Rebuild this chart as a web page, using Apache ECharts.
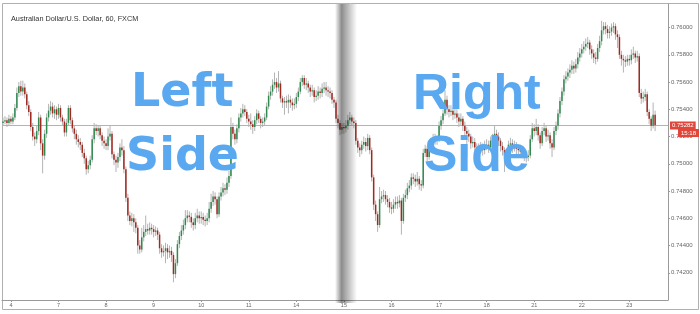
<!DOCTYPE html>
<html><head><meta charset="utf-8">
<script src="https://cdn.jsdelivr.net/npm/echarts@6/dist/echarts.min.js"></script>
<style>html,body{margin:0;padding:0;background:#fff}#c{width:700px;height:314px}</style>
</head><body><div id="c"></div>
<script>
const titleText = 'Australian Dollar/U.S. Dollar, 60, FXCM';
const dayLabels = ['3','4','7','8','9','10','11','14','15','16','17','18','21','22','23'];
const barsPerDay = [4,24,24,24,24,24,24,24,24,24,24,24,24,24,14];
const emptySlots = 6;
const lastPrice = 0.75282;
const countdown = '15:18';

const closes = [.7531,.7532,.7530,.7533,.7531,.7534,.7541,.7552,.7557,.7553,.7556,.7551,.7543,.7538,.7527,.7520,.7518,.7524,.7534,.7515,
.7506,.7522,.7534,.7539,.7542,.7537,.7540,.7536,.7541,.7534,.7531,.7523,.7530,.7541,.7532,.7526,.7522,.7518,.7516,.7514,
.7508,.7504,.7496,.7499,.7503,.7518,.7526,.7524,.7526,.7521,.7517,.7515,.7513,.7520,.7522,.7507,.7503,.7501,.7505,.7512,
.7510,.7496,.7475,.7462,.7458,.7460,.7457,.7453,.7440,.7437,.7446,.7450,.7452,.7451,.7453,.7452,.7450,.7451,.7448,.7438,
.7435,.7436,.7438,.7435,.7436,.7433,.7419,.7427,.7441,.7447,.7451,.7455,.7460,.7462,.7461,.7457,.7455,.7460,.7462,.7460,
.7461,.7459,.7458,.7460,.7467,.7472,.7476,.7474,.7463,.7476,.7479,.7482,.7481,.7486,.7491,.7527,.7522,.7518,.7526,.7534,
.7537,.7540,.7538,.7533,.7531,.7529,.7527,.7532,.7537,.7533,.7530,.7531,.7534,.7542,.7550,.7553,.7558,.7560,.7556,.7559,
.7548,.7545,.7546,.7545,.7547,.7545,.7543,.7544,.7549,.7553,.7560,.7563,.7558,.7559,.7556,.7553,.7554,.7549,.7550,.7553,
.7552,.7555,.7556,.7554,.7553,.7552,.7547,.7545,.7533,.7530,.7525,.7527,.7526,.7528,.7532,.7534,.7531,.7530,.7517,.7512,
.7510,.7514,.7516,.7513,.7519,.7510,.7490,.7470,.7463,.7455,.7474,.7476,.7477,.7474,.7472,.7468,.7467,.7470,.7472,.7471,
.7473,.7458,.7475,.7477,.7482,.7484,.7490,.7489,.7487,.7489,.7485,.7484,.7508,.7511,.7505,.7513,.7515,.7519,.7518,.7518,
.7528,.7532,.7537,.7547,.7540,.7538,.7539,.7536,.7537,.7534,.7531,.7533,.7528,.7524,.7522,.7520,.7515,.7516,.7512,.7510,
.7511,.7512,.7510,.7513,.7514,.7512,.7517,.7518,.7522,.7520,.7517,.7513,.7510,.7506,.7504,.7514,.7515,.7512,.7513,.7511,
.7510,.7509,.7508,.7506,.7505,.7506,.7518,.7526,.7524,.7527,.7521,.7515,.7524,.7526,.7520,.7521,.7515,.7512,.7524,.7528,
.7537,.7546,.7553,.7562,.7564,.7567,.7569,.7572,.7570,.7573,.7578,.7581,.7584,.7586,.7588,.7589,.7584,.7581,.7578,.7577,
.7585,.7590,.7598,.7601,.7599,.7596,.7597,.7600,.7601,.7595,.7593,.7580,.7577,.7576,.7575,.7577,.7576,.7580,.7581,.7578,
.7579,.7552,.7548,.7549,.7551,.7538,.7533,.7528,.7536,.75282];

const opens = [.7530,.7531,.7532,.7530,.7533,.7531,.7534,.7541,.7552,.7557,.7553,.7556,.7551,.7543,.7538,.7527,.7520,.7518,.7524,.7534,
.7515,.7506,.7522,.7534,.7539,.7542,.7537,.7540,.7536,.7541,.7534,.7531,.7523,.7530,.7541,.7532,.7526,.7522,.7518,.7516,
.7514,.7508,.7504,.7496,.7499,.7503,.7518,.7526,.7524,.7526,.7521,.7517,.7515,.7513,.7520,.7522,.7507,.7503,.7501,.7505,
.7512,.7510,.7496,.7475,.7462,.7458,.7460,.7457,.7453,.7440,.7437,.7446,.7450,.7452,.7451,.7453,.7452,.7450,.7451,.7448,
.7438,.7435,.7436,.7438,.7435,.7436,.7433,.7419,.7427,.7441,.7447,.7451,.7455,.7460,.7462,.7461,.7457,.7455,.7460,.7462,
.7460,.7461,.7459,.7458,.7460,.7467,.7472,.7476,.7474,.7463,.7476,.7479,.7482,.7481,.7486,.7491,.7527,.7522,.7518,.7526,
.7534,.7537,.7540,.7538,.7533,.7531,.7529,.7527,.7532,.7537,.7533,.7530,.7531,.7534,.7542,.7550,.7553,.7558,.7560,.7556,
.7559,.7548,.7545,.7546,.7545,.7547,.7545,.7543,.7544,.7549,.7553,.7560,.7563,.7558,.7559,.7556,.7553,.7554,.7549,.7550,
.7553,.7552,.7555,.7556,.7554,.7553,.7552,.7547,.7545,.7533,.7530,.7525,.7527,.7526,.7528,.7532,.7534,.7531,.7530,.7517,
.7512,.7510,.7514,.7516,.7513,.7519,.7510,.7490,.7470,.7463,.7455,.7474,.7476,.7477,.7474,.7472,.7468,.7467,.7470,.7472,
.7471,.7473,.7458,.7475,.7477,.7482,.7484,.7490,.7489,.7487,.7489,.7485,.7484,.7508,.7511,.7505,.7513,.7515,.7519,.7518,
.7518,.7528,.7532,.7537,.7547,.7540,.7538,.7539,.7536,.7537,.7534,.7531,.7533,.7528,.7524,.7522,.7520,.7515,.7516,.7512,
.7510,.7511,.7512,.7510,.7513,.7514,.7512,.7517,.7518,.7522,.7520,.7517,.7513,.7510,.7506,.7504,.7514,.7515,.7512,.7513,
.7511,.7510,.7509,.7508,.7506,.7505,.7506,.7518,.7526,.7524,.7527,.7521,.7515,.7524,.7526,.7520,.7521,.7515,.7512,.7524,
.7528,.7537,.7546,.7553,.7562,.7564,.7567,.7569,.7572,.7570,.7573,.7578,.7581,.7584,.7586,.7588,.7589,.7584,.7581,.7578,
.7577,.7585,.7590,.7598,.7601,.7599,.7596,.7597,.7600,.7601,.7595,.7593,.7580,.7577,.7576,.7575,.7577,.7576,.7580,.7581,
.7578,.7579,.7552,.7548,.7549,.7551,.7538,.7533,.7528,.7536];

const highs = [.7534,.7535,.7534,.7536,.7535,.7537,.7544,.7556,.7560,.7561,.7561,.7559,.7553,.7546,.7540,.7530,.7523,.7528,.7538,.7536,
.7518,.7525,.7537,.7544,.7546,.7545,.7543,.7542,.7544,.7543,.7536,.7533,.7533,.7543,.7543,.7534,.7528,.7525,.7521,.7519,
.7516,.7511,.7506,.7502,.7506,.7521,.7530,.7529,.7528,.7528,.7523,.7520,.7518,.7526,.7528,.7524,.7509,.7506,.7508,.7515,
.7518,.7513,.7498,.7478,.7465,.7464,.7463,.7460,.7455,.7444,.7453,.7455,.7462,.7456,.7457,.7456,.7455,.7454,.7453,.7450,
.7441,.7440,.7442,.7441,.7440,.7439,.7435,.7430,.7444,.7450,.7455,.7459,.7466,.7466,.7465,.7464,.7460,.7464,.7467,.7465,
.7465,.7464,.7462,.7464,.7472,.7478,.7480,.7479,.7476,.7479,.7483,.7486,.7485,.7490,.7495,.7534,.7530,.7525,.7529,.7537,
.7541,.7544,.7543,.7540,.7536,.7537,.7532,.7535,.7540,.7539,.7535,.7534,.7537,.7545,.7553,.7557,.7562,.7567,.7563,.7568,
.7561,.7550,.7549,.7550,.7551,.7550,.7548,.7548,.7552,.7556,.7563,.7565,.7565,.7563,.7561,.7558,.7558,.7556,.7554,.7557,
.7556,.7559,.7560,.7560,.7557,.7556,.7554,.7549,.7547,.7536,.7532,.7530,.7530,.7532,.7536,.7538,.7536,.7534,.7532,.7519,
.7515,.7517,.7520,.7519,.7522,.7521,.7512,.7492,.7473,.7465,.7483,.7480,.7481,.7480,.7477,.7475,.7472,.7474,.7476,.7476,
.7477,.7475,.7478,.7481,.7486,.7488,.7493,.7493,.7492,.7494,.7491,.7488,.7511,.7514,.7513,.7516,.7519,.7522,.7522,.7521,
.7531,.7535,.7540,.7554,.7550,.7543,.7543,.7541,.7541,.7540,.7537,.7537,.7535,.7531,.7527,.7525,.7522,.7520,.7519,.7515,
.7515,.7516,.7515,.7517,.7518,.7517,.7520,.7522,.7528,.7525,.7523,.7519,.7516,.7512,.7509,.7517,.7519,.7518,.7517,.7516,
.7514,.7514,.7512,.7511,.7509,.7510,.7521,.7530,.7529,.7533,.7529,.7523,.7527,.7530,.7528,.7525,.7523,.7518,.7527,.7531,
.7540,.7549,.7556,.7565,.7568,.7570,.7573,.7576,.7575,.7577,.7582,.7585,.7588,.7590,.7592,.7593,.7591,.7587,.7584,.7582,
.7588,.7594,.7605,.7604,.7604,.7602,.7601,.7603,.7604,.7603,.7598,.7595,.7583,.7580,.7579,.7580,.7580,.7584,.7586,.7583,
.7583,.7581,.7555,.7553,.7555,.7553,.7540,.7535,.7545,.7539];

const lows = [.7528,.7529,.7527,.7528,.7529,.7529,.7532,.7539,.7549,.7550,.7550,.7548,.7540,.7535,.7524,.7517,.7513,.7515,.7521,.7510,
.7493,.7503,.7519,.7531,.7536,.7534,.7533,.7532,.7533,.7531,.7528,.7520,.7520,.7528,.7529,.7523,.7518,.7514,.7512,.7510,
.7505,.7500,.7492,.7493,.7496,.7501,.7515,.7521,.7520,.7518,.7513,.7511,.7510,.7510,.7517,.7504,.7499,.7494,.7497,.7502,
.7506,.7493,.7472,.7458,.7455,.7454,.7450,.7449,.7434,.7434,.7435,.7443,.7447,.7448,.7448,.7448,.7446,.7447,.7444,.7434,
.7431,.7432,.7427,.7430,.7431,.7428,.7413,.7416,.7425,.7438,.7444,.7448,.7452,.7457,.7457,.7453,.7451,.7452,.7457,.7456,
.7456,.7455,.7454,.7455,.7457,.7464,.7469,.7470,.7460,.7461,.7473,.7476,.7477,.7478,.7483,.7489,.7518,.7514,.7515,.7523,
.7531,.7534,.7535,.7530,.7527,.7525,.7522,.7524,.7529,.7530,.7526,.7527,.7528,.7532,.7540,.7547,.7550,.7555,.7552,.7553,
.7545,.7541,.7536,.7541,.7537,.7541,.7539,.7540,.7541,.7546,.7551,.7557,.7555,.7554,.7552,.7549,.7550,.7545,.7546,.7547,
.7548,.7549,.7552,.7550,.7549,.7548,.7544,.7541,.7530,.7526,.7521,.7522,.7522,.7523,.7525,.7529,.7528,.7526,.7514,.7508,
.7505,.7507,.7511,.7509,.7510,.7507,.7487,.7466,.7458,.7450,.7453,.7471,.7472,.7470,.7468,.7464,.7463,.7464,.7467,.7467,
.7468,.7448,.7456,.7472,.7474,.7479,.7481,.7485,.7483,.7484,.7481,.7480,.7482,.7505,.7502,.7503,.7510,.7512,.7514,.7514,
.7516,.7525,.7529,.7535,.7536,.7534,.7535,.7532,.7533,.7530,.7527,.7528,.7524,.7520,.7505,.7516,.7511,.7512,.7508,.7506,
.7507,.7508,.7506,.7507,.7510,.7508,.7509,.7514,.7515,.7516,.7513,.7509,.7506,.7494,.7500,.7502,.7511,.7508,.7509,.7507,
.7506,.7505,.7504,.7502,.7501,.7502,.7504,.7516,.7520,.7521,.7517,.7511,.7513,.7521,.7516,.7517,.7511,.7505,.7510,.7521,
.7525,.7534,.7543,.7550,.7559,.7561,.7563,.7566,.7566,.7567,.7570,.7575,.7578,.7581,.7583,.7585,.7580,.7577,.7574,.7573,
.7575,.7582,.7587,.7595,.7595,.7592,.7592,.7594,.7596,.7591,.7585,.7577,.7572,.7567,.7571,.7572,.7572,.7573,.7577,.7574,
.7575,.7549,.7544,.7545,.7546,.7535,.7529,.7524,.7526,.7524];

// categories built from the day labels
const categories = [];
dayLabels.forEach((d, k) => {
  const n = barsPerDay[k];
  const start = k === 0 ? 24 - n : 0;
  for (let h = 0; h < n; h++) categories.push(d + ' ' + String(start + h).padStart(2, '0') + ':00');
});
for (let k = 1; k <= emptySlots; k++) categories.push('+' + k);
const isDayStart = (idx, val) => typeof val === 'string' && val.endsWith(' 00:00');

const data = closes.map((c, i) => [i, opens[i], c, lows[i], highs[i]]);

const UP = '#2f8a4f', DOWN = '#a3281f', WICK = '#b3b3b3', PRICE = '#f19a92', TAG = '#e0473a';
const chart = echarts.init(document.getElementById('c'), null, {renderer: 'canvas'});
chart.setOption({
  animation: false,
  backgroundColor: '#fff',
  title: {text: titleText, left: 6, top: 10, textStyle: {fontFamily: 'Liberation Sans', fontSize: 7.3, fontWeight: 'normal', color: '#333'}},
  grid: {left: 2, right: 32, top: 4, bottom: 14, show: false},
  xAxis: {
    type: 'category', data: categories, boundaryGap: true,
    axisLine: {show: true, lineStyle: {color: '#9a9a9a', width: 1}},
    axisTick: {show: true, alignWithLabel: true, interval: isDayStart, length: 2, lineStyle: {color: '#999'}},
    axisLabel: {interval: isDayStart, formatter: v => v.split(' ')[0], fontSize: 5.5, color: '#666', margin: 2, fontFamily: 'Liberation Sans'},
    splitLine: {show: false}
  },
  yAxis: {
    type: 'value', position: 'right', min: 0.740, max: 0.76173, interval: 0.002, scale: true,
    axisLine: {show: true, lineStyle: {color: '#9a9a9a', width: 1}},
    axisTick: {show: true, length: 2, lineStyle: {color: '#999'}},
    axisLabel: {formatter: v => v.toFixed(5), fontSize: 6, color: '#666', margin: 3, showMinLabel: false, showMaxLabel: false, fontFamily: 'Liberation Sans'},
    splitLine: {show: false}
  },
  series: [{
    type: 'custom',
    data: [[0, lastPrice]],
    encode: {x: 0, y: 1},
    clip: false,
    z: 1,
    silent: true,
    renderItem: (params, api) => {
      const y = Math.round(api.coord([0, api.value(1)])[1]) + 0.5;
      const cs = params.coordSys;
      return {type: 'group', children: [
        {type: 'line', shape: {x1: cs.x, y1: y, x2: cs.x + cs.width, y2: y}, style: {stroke: PRICE, lineWidth: 1}},
        {type: 'text', x: cs.x + cs.width + 2, y: y, z2: 100, style: {text: lastPrice.toFixed(5), fill: '#fff', backgroundColor: TAG, padding: [1, 2, 1, 2], font: '6px Liberation Sans', verticalAlign: 'middle'}}
      ]};
    }
  }, {
    type: 'custom',
    data: data,
    encode: {x: 0, y: [1, 2, 3, 4]},
    clip: true,
    z: 2,
    renderItem: (params, api) => {
      const i = api.value(0);
      const o = api.value(1), c = api.value(2), l = api.value(3), h = api.value(4);
      const pO = api.coord([i, o]), pC = api.coord([i, c]);
      const pL = api.coord([i, l]), pH = api.coord([i, h]);
      const w = api.size([1, 0])[0] * 0.75;
      const x = pO[0];
      const top = Math.min(pO[1], pC[1]), bot = Math.max(pO[1], pC[1]);
      return {type: 'group', children: [
        {type: 'line', shape: {x1: x, y1: pH[1], x2: x, y2: pL[1]}, style: {stroke: WICK, lineWidth: 1}},
        {type: 'rect', shape: {x: x - w / 2, y: top, width: w, height: Math.max(bot - top, 1)}, style: {fill: c >= o ? UP : DOWN}}
      ]};
    }
  }],
  graphic: [
    {type: 'rect', silent: true, z: 0, shape: {x: 2.5, y: 3.5, width: 696, height: 306}, style: {fill: 'none', stroke: '#b0b0b0', lineWidth: 1}},
    {type: 'text', z: 100, left: 678, top: 129, style: {text: countdown, fill: '#fff', backgroundColor: TAG, padding: [1, 3, 1, 3], font: '6px Liberation Sans'}},
    {type: 'rect', silent: true, z: 90, shape: {x: 335, y: 4, width: 22, height: 299},
      style: {fill: new echarts.graphic.LinearGradient(0, 0, 1, 0, [
        {offset: 0, color: 'rgba(0,0,0,0)'},
        {offset: 0.3, color: 'rgba(0,0,0,0.45)'},
        {offset: 0.45, color: 'rgba(0,0,0,0.35)'},
        {offset: 1, color: 'rgba(0,0,0,0)'}])}},
    {type: 'text', z: 95, x: 131, y: 94, style: {text: 'Left', fill: '#5aa9f0', font: 'bold 46px DejaVu Sans', textVerticalAlign: 'middle'}},
    {type: 'text', z: 95, x: 126, y: 158, style: {text: 'Side', fill: '#5aa9f0', font: 'bold 46px DejaVu Sans', textVerticalAlign: 'middle'}},
    {type: 'text', z: 95, x: 413, y: 95, style: {text: 'Right', fill: '#5aa9f0', font: 'bold 50px Liberation Sans', textVerticalAlign: 'middle'}},
    {type: 'text', z: 95, x: 424, y: 157, style: {text: 'Side', fill: '#5aa9f0', font: 'bold 50px Liberation Sans', textVerticalAlign: 'middle'}}
  ]
});
</script></body></html>
